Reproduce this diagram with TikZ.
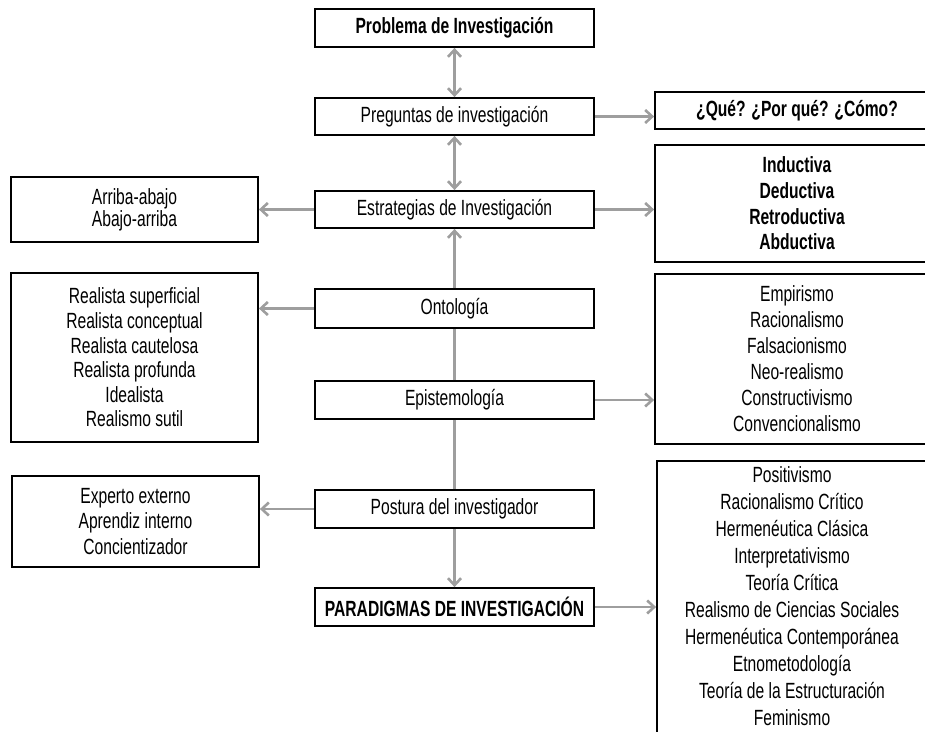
\documentclass[tikz,border=0pt]{standalone}
\usepackage{fontspec}
\setmainfont{Liberation Sans}[FakeStretch=0.71]
\usepackage{tikz}
\usetikzlibrary{arrows.meta,positioning}
\definecolor{linkgray}{RGB}{158,158,158}
\tikzset{
  box/.style={draw, line width=1.8pt, inner sep=0pt, align=center,
    font=\fontsize{22}{26}\selectfont},
  midbox/.style={box, minimum width=279pt, minimum height=38pt},
  link/.style={draw=linkgray, line width=2.6pt,
    -{Straight Barb[length=7pt,width=13pt]}},
  both/.style={link, {Straight Barb[length=7pt,width=13pt]}-{Straight Barb[length=7pt,width=13pt]}},
  plain/.style={draw=linkgray, line width=2.6pt}
}
\begin{document}
\begin{tikzpicture}[x=1pt,y=-1pt]
\useasboundingbox (0,0) rectangle (925,731);
\clip (0,0) rectangle (925,731);
\fill[white] (0,0) rectangle (925,731);

\node[midbox, font=\fontsize{22}{26}\selectfont\bfseries] (prob) at (454.5,28) {Problema de Investigación};
\node[midbox, minimum height=37pt] (preg) at (454.5,116.5) {Preguntas de investigación};
\node[midbox, minimum height=37pt] (estr) at (454.5,209.5) {Estrategias de Investigación};
\node[midbox, minimum height=39pt] (onto) at (454.5,308.5) {Ontología};
\node[midbox] (epis) at (454.5,400) {Epistemología};
\node[midbox] (post) at (454.5,509) {Postura del investigador};
\node[midbox, font=\fontsize{22}{26}\selectfont\bfseries] (para) at (454.5,607) {PARADIGMAS DE INVESTIGACIÓN};

\node[box, minimum width=284pt, minimum height=37pt, font=\fontsize{22}{26}\selectfont\bfseries] (que) at (797,110.5) {¿Qué? ¿Por qué? ¿Cómo?};
\node[box, minimum width=284pt, minimum height=117pt, font=\fontsize{22}{25.7}\selectfont\bfseries] (indu) at (797,203.5)
  {Inductiva\\Deductiva\\Retroductiva\\Abductiva};
\node[box, minimum width=284pt, minimum height=170pt] (empi) at (797,359)
  {Empirismo\\Racionalismo\\Falsacionismo\\Neo-realismo\\Constructivismo\\Convencionalismo};
\node[box, minimum width=270pt, anchor=north, inner ysep=6pt, text depth=30pt, font=\fontsize{22}{27}\selectfont] (posi) at (792,460)
  {Positivismo\\Racionalismo Crítico\\Hermenéutica Clásica\\Interpretativismo\\Teoría Crítica\\
   Realismo de Ciencias Sociales\\Hermenéutica Contemporánea\\Etnometodología\\Teoría de la Estructuración\\Feminismo};

\node[box, minimum width=247pt, minimum height=65pt, font=\fontsize{22}{22}\selectfont] (arri) at (134.5,209.5)
  {Arriba-abajo\\Abajo-arriba};
\node[box, minimum width=247pt, minimum height=169pt, font=\fontsize{22}{24.6}\selectfont] (real) at (134.5,357.5)
  {Realista superficial\\Realista conceptual\\Realista cautelosa\\Realista profunda\\Idealista\\Realismo sutil};
\node[box, minimum width=247pt, minimum height=91pt, font=\fontsize{22}{25.5}\selectfont] (expe) at (135.5,521.5)
  {Experto externo\\Aprendiz interno\\Concientizador};

\draw[both] (prob.south) -- (preg.north);
\draw[both] (preg.south) -- (estr.north);
\draw[link] (onto.north) -- (estr.south);
\draw[plain] (epis.north) -- (onto.south);
\draw[plain] (epis.south) -- (post.north);
\draw[link] (post.south) -- (para.north);

\draw[link] (preg.east) -- (preg.east -| que.west);
\draw[link] (estr.east) -- (estr.east -| indu.west);
\draw[link] (epis.east) -- (epis.east -| empi.west);
\draw[link] (para.east) -- (para.east -| posi.west);
\draw[link] (estr.west) -- (estr.west -| arri.east);
\draw[link] (onto.west) -- (onto.west -| real.east);
\draw[link] (post.west) -- (post.west -| expe.east);
\end{tikzpicture}
\end{document}
